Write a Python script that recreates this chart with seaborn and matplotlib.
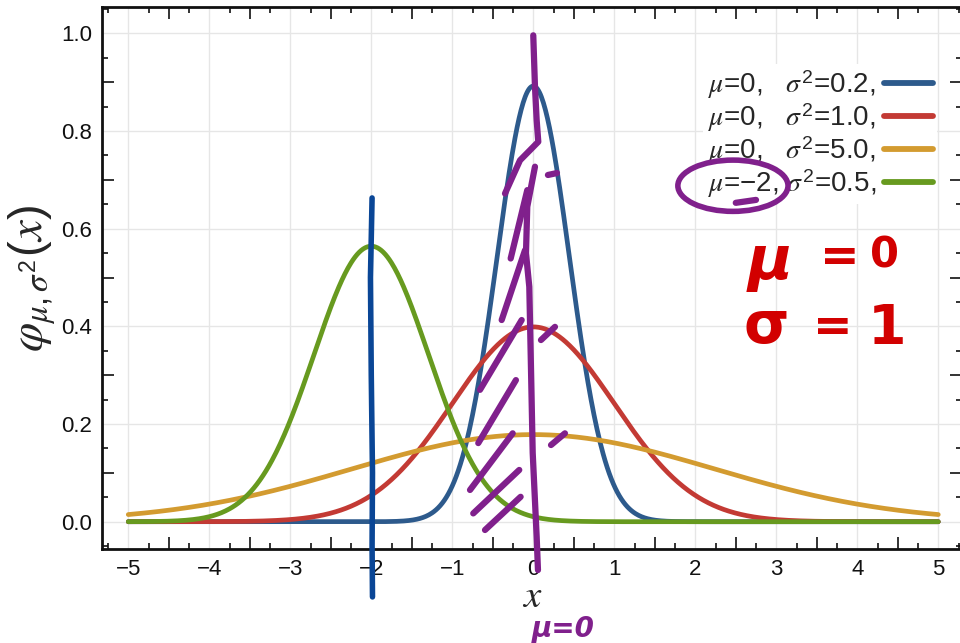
import numpy as np
import pandas as pd
import matplotlib
matplotlib.use("Agg")
import matplotlib.pyplot as plt
from matplotlib.patches import Ellipse
from matplotlib.ticker import FixedLocator, NullFormatter
import seaborn as sns

mus = [0, 0, 0, -2]
sigma2s = [0.2, 1.0, 5.0, 0.5]
mu_texts = ["0", "0", "0", "\u22122"]
sigma_texts = ["0.2", "1.0", "5.0", "0.5"]
colors = ["#2d5a8c", "#c33a34", "#d39b30", "#679a1f"]
x_ticks = [-5, -4, -3, -2, -1, 0, 1, 2, 3, 4, 5]
y_ticks = [0.0, 0.2, 0.4, 0.6, 0.8, 1.0]

sns.set_style("white")
plt.rcParams["font.family"] = ["Liberation Sans", "DejaVu Sans"]
plt.rcParams["mathtext.fontset"] = "custom"
plt.rcParams["mathtext.rm"] = "Liberation Sans"
plt.rcParams["mathtext.it"] = "STIXGeneral:italic"
plt.rcParams["mathtext.bf"] = "Liberation Sans:bold"

labels = []
for m, s in zip(mu_texts, sigma_texts):
    gap = "   " if len(m) == 1 else " "
    labels.append(r"$\mu$=" + m + "," + gap + r"$\sigma^2$=" + s + ",")

xs = np.linspace(-5, 5, 801)
frames = []
for lab, m, s2 in zip(labels, mus, sigma2s):
    frames.append(pd.DataFrame({
        "x": xs,
        "phi": np.exp(-(xs - m) ** 2 / (2 * s2)) / np.sqrt(2 * np.pi * s2),
        "curve": lab,
    }))
df = pd.concat(frames, ignore_index=True)

W, H = 960, 643
fig = plt.figure(figsize=(W / 100, H / 100), dpi=100)
ax = fig.add_axes([101.7 / W, (H - 549.3) / H, (962 - 101.7) / W, (549.3 - 7) / H])

sns.lineplot(data=df, x="x", y="phi", hue="curve", hue_order=labels,
             palette=colors, lw=3.4, ax=ax, legend=False, zorder=3)

ax.set_xlim(-5.328, 5.293)
ax.set_ylim(-0.0565, 1.054)

# grid
ax.set_xticks(x_ticks)
ax.set_yticks(y_ticks)
ax.set_xticklabels([f"{t}".replace("-", "\u2212") for t in x_ticks])
ax.set_yticklabels([f"{t:.1f}" for t in y_ticks])
ax.grid(True, color="#e6e6e6", lw=1.0, zorder=0)
ax.set_axisbelow(True)

# spines
for sp in ax.spines.values():
    sp.set_linewidth(2.0)
    sp.set_color("#111111")

ax.tick_params(which="major", length=0, labelsize=16, pad=7, colors="#111111",
               top=False, right=False)
# short minor ticks
xminor = [v / 4 for v in range(-21, 22) if v % 2 != 0]
yminor = [v / 20 for v in range(-1, 22) if v % 2 != 0]
ax.xaxis.set_minor_locator(FixedLocator(xminor))
ax.yaxis.set_minor_locator(FixedLocator(yminor))
ax.tick_params(which="minor", direction="in", length=4.3, width=1.2,
               top=True, right=True, bottom=True, left=True, colors="#111111")

# long ticks via secondary axes
xlong = [v / 2 for v in range(-11, 12) if v % 2 != 0]
ylong = [v / 10 for v in range(-1, 11) if v % 2 != 0]
for side in ["bottom", "top"]:
    sec = ax.secondary_xaxis(side)
    sec.set_xticks(xlong)
    sec.xaxis.set_major_formatter(NullFormatter())
    sec.tick_params(direction="in", length=8.6, width=1.2, colors="#111111")
    for sp in sec.spines.values():
        sp.set_visible(False)
for side in ["left", "right"]:
    sec = ax.secondary_yaxis(side)
    sec.set_yticks(ylong)
    sec.yaxis.set_major_formatter(NullFormatter())
    sec.tick_params(direction="in", length=8.6, width=1.2, colors="#111111")
    for sp in sec.spines.values():
        sp.set_visible(False)

ax.set_xlabel(r"$x$", fontsize=28, labelpad=-1)
ax.set_ylabel(r"$\varphi_{\mu,\sigma^2}(x)$", fontsize=34, labelpad=2)

# legend
handles = ax.get_lines()[:4]
leg = ax.legend(handles, labels, loc="upper right",
                bbox_to_anchor=(937 / W, 1 - 64 / H), bbox_transform=fig.transFigure,
                markerfirst=False, frameon=True, facecolor="white", edgecolor="none",
                framealpha=1, fontsize=20, handlelength=1.75, handletextpad=0.3,
                labelspacing=0.0, borderpad=0.15, borderaxespad=0)
for ln in leg.get_lines():
    ln.set_linewidth(4.2)

# ---- hand-drawn annotations ----
purple = "#80208c"
kw = dict(color=purple, lw=4.5, solid_capstyle="round", solid_joinstyle="round",
          clip_on=False, zorder=6)
stroke1_x = [0.0, 0.021, 0.042, 0.062, -0.164, -0.349]
stroke1_y = [0.996, 0.891, 0.822, 0.778, 0.740, 0.672]
ax.plot(stroke1_x, stroke1_y, **kw)
stroke2_x = [0.021, -0.074, -0.090, -0.049, -0.032, -0.007, 0.042, 0.058]
stroke2_y = [0.727, 0.645, 0.550, 0.481, 0.345, 0.141, -0.031, -0.099]
ax.plot(stroke2_x, stroke2_y, **kw)
hatch = [
    ((-0.074, -0.279), (0.679, 0.539)),
    ((-0.102, -0.390), (0.556, 0.413)),
    ((-0.143, -0.658), (0.413, 0.270)),
    ((-0.214, -0.679), (0.290, 0.161)),
    ((-0.254, -0.781), (0.181, 0.065)),
    ((-0.173, -0.741), (0.106, 0.017)),
    ((-0.156, -0.596), (0.051, -0.017)),
    ((0.181, 0.293), (0.710, 0.714)),
    ((0.095, 0.268), (0.372, 0.399)),
    ((0.219, 0.391), (0.157, 0.181)),
]
for hx, hy in hatch:
    ax.plot(hx, hy, **kw)

blue_x = [-1.99, -2.01, -2.0, -1.985, -1.99, -1.985]
blue_y = [0.663, 0.5, 0.3, 0.1, -0.05, -0.154]
ax.plot(blue_x, blue_y, color="#0a4696", lw=4, solid_capstyle="round",
        clip_on=False, zorder=6)

ell = Ellipse((2.465, 0.688), width=1.36, height=0.105, fill=False,
              edgecolor=purple, lw=4, zorder=7, clip_on=False)
ax.add_patch(ell)
ax.plot([2.5, 2.75], [0.653, 0.659], **kw)

red = "#d20000"
hand = dict(color=red, fontweight="bold", family="DejaVu Sans", ha="center",
            va="center", zorder=7)
ax.text(2.92, 0.53, "\u03bc", fontsize=44, fontstyle="italic", **hand)
ax.text(3.78, 0.54, "=", fontsize=34, **hand)
ax.text(4.34, 0.545, "0", fontsize=30, **hand)
ax.text(2.88, 0.40, "\u03c3", fontsize=42, **hand)
ax.text(3.70, 0.395, "=", fontsize=34, **hand)
ax.text(4.37, 0.395, "1", fontsize=40, **hand)
ax.text(0.365, -0.219, "\u03bc=0", color=purple, fontsize=20, fontweight="bold",
        fontstyle="italic", family="DejaVu Sans", ha="center", va="center",
        zorder=7, clip_on=False)

fig.savefig("out.png", dpi=100)
